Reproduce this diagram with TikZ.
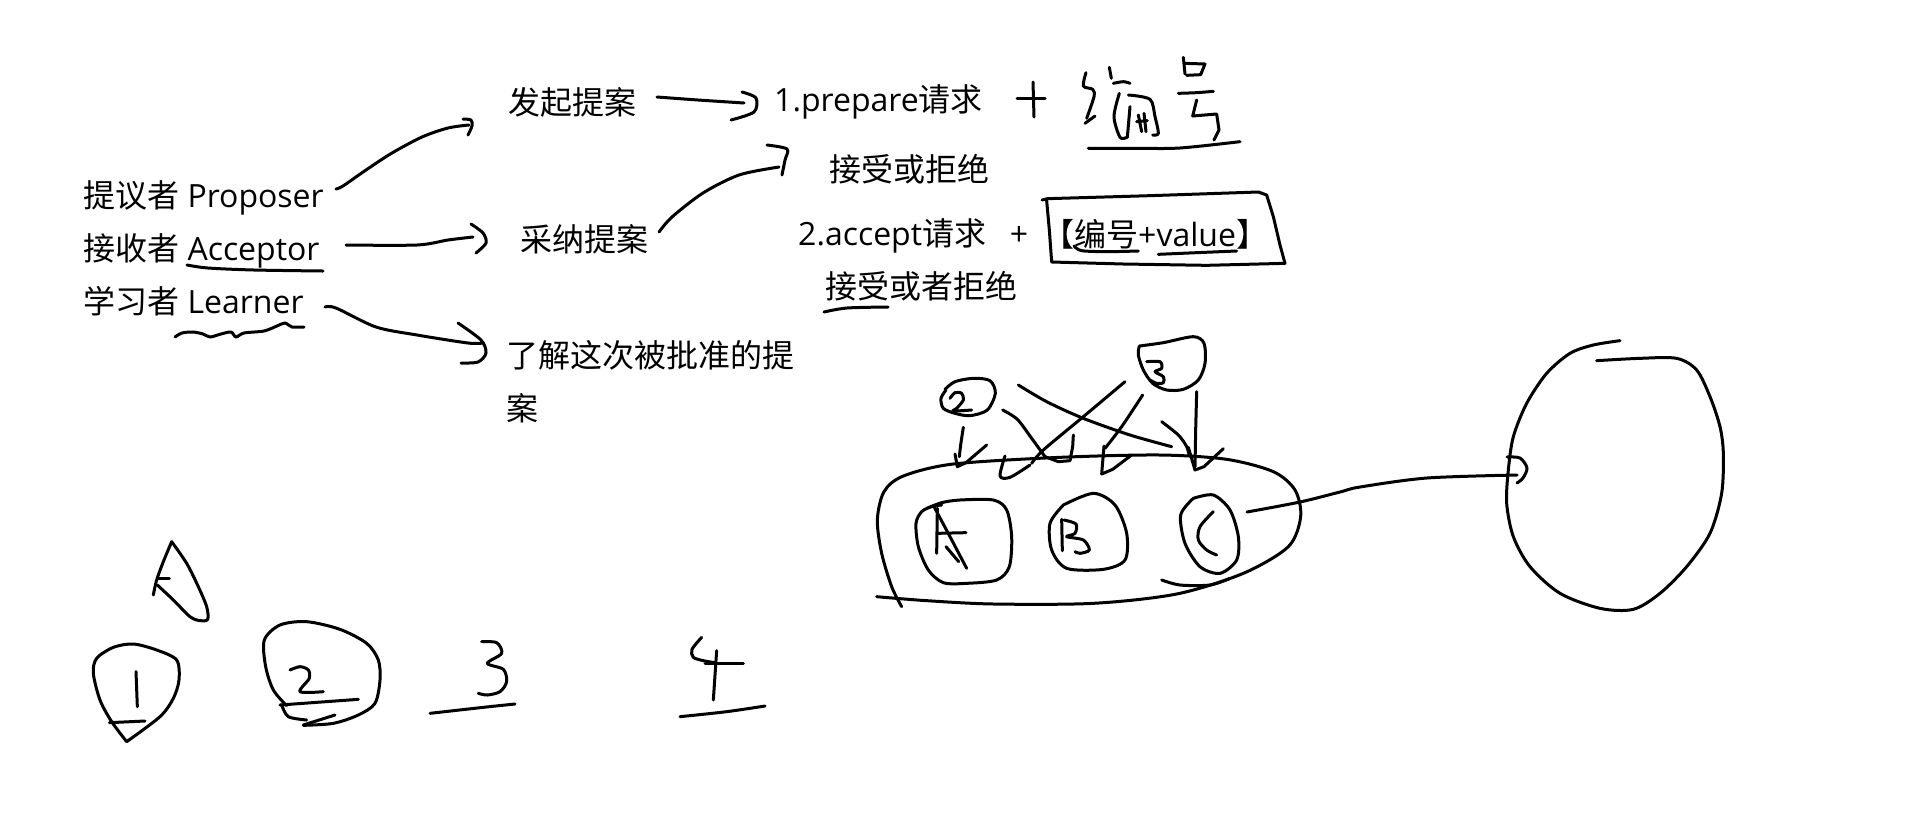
\documentclass[tikz,border=0pt]{standalone}
\usepackage{fontspec}
\setmainfont{Open Sans}
\newfontfamily\cjk{Noto Sans CJK SC}
\begin{document}
\begin{tikzpicture}[x=1pt,y=-1pt,
  hand/.style={line width=3pt, line cap=round, line join=round},
  lbl/.style={anchor=base west, inner sep=0pt, font=\fontsize{32}{53}\selectfont},
  cjklbl/.style={lbl, font=\fontsize{32}{53}\selectfont\cjk},
]
\useasboundingbox[fill=white] (0,0) rectangle (1914,823);

% ---- typed labels ----
\node[lbl] (prop) at (83,207) {{\cjk 提议者} Proposer};
\node[lbl] (acc)  at (83,260) {{\cjk 接收者} Acceptor};
\node[lbl] (lrn)  at (83,313) {{\cjk 学习者} Learner};
\node[cjklbl] (start)  at (508,114) {发起提案};
\node[cjklbl] (adopt)  at (520,251) {采纳提案};
\node[cjklbl, align=left] (learn) at (506,420) {了解这次被批准的提\\案};
\node[lbl] (prep)  at (774,111) {1.prepare{\cjk 请求}};
\node[cjklbl] (rej1) at (829,181) {接受或拒绝};
\node[lbl] (accr)  at (798,245) {2.accept{\cjk 请求}};
\node[inner sep=0pt, font=\fontsize{32}{40}\selectfont] (plus) at (1019,236) {+};
\node[lbl] (numval) at (1042,246) {{\cjk 【编号}+value{\cjk 】}};
\node[cjklbl] (rej2) at (825,298) {接受或者拒绝};

% ---- hand-drawn arrows between the labels ----
\draw[hand] plot[smooth] coordinates {(336,189) (343,186) (366,170) (392,153) (422,137) (448,128) (469,125)};
\draw[hand] plot[smooth] coordinates {(463,119) (471,120) (472,126) (468,135)};

\draw[hand] plot[smooth] coordinates {(657,97) (698,100) (744,103)};
\draw[hand] plot[smooth] coordinates {(742,92) (756,98) (754,112) (731,120)};

\draw[hand] plot[smooth] coordinates {(659,232) (672,217) (703,193) (739,175) (779,167)};
\draw[hand] plot[smooth] coordinates {(767,145) (787,149) (785,160) (782,175)};

\draw[hand] plot[smooth] coordinates {(346,245) (417,245) (448,240) (473,237)};
\draw[hand] plot[smooth] coordinates {(471,224) (483,233) (486,243) (476,253)};

\draw[hand] plot[smooth] coordinates {(325,307) (336,308) (376,327) (417,335) (468,343) (483,343)};
\draw[hand] plot[smooth] coordinates {(458,323) (481,340) (486,353) (478,362) (461,363)};

% underlines
\draw[hand] plot[smooth] coordinates {(187,265) (208,268) (254,270) (323,271)};
\draw[hand] plot[smooth, tension=0.5] coordinates {(175,337) (182,333) (193,332) (203,334) (210,337) (221,334) (231,332) (236,337) (244,333) (264,331) (277,326) (285,323) (292,327) (304,327)};
\draw[hand] plot[smooth] coordinates {(824,312) (847,308) (888,307)};

% hand-written plus and number
\draw[hand] (1017,98) -- (1045,98);
\draw[hand] (1033,82) -- (1034,117);

\begin{scope}[shift={(1070,50)}, scale=1/3]
  \draw[hand] plot[smooth] coordinates {(48,68) (40,108) (68,118) (72,140) (50,205)};
  \draw[hand] (45,220) -- (75,198);
  \draw[hand] (118,52) -- (124,85);
  \draw[hand] plot[smooth] coordinates {(130,100) (160,95) (180,100)};
  \draw[hand] plot[smooth] coordinates {(148,130) (132,200) (150,262) (170,262)};
  \draw[hand] plot[smooth] coordinates {(175,135) (240,148) (255,200) (265,250) (248,255)};
  \draw[hand] (180,170) -- (172,262);
  \draw[hand] (205,195) -- (215,245);
  \draw[hand] (222,190) -- (228,245);
  \draw[hand] (200,215) -- (232,212);
  \draw[hand] (340,22) -- (345,72);
  \draw[hand] (345,40) -- (405,42) -- (392,74) -- (350,76);
  \draw[hand] plot[smooth] coordinates {(325,130) (380,128) (430,124)};
  \draw[hand] (380,150) -- (368,198) -- (440,192) -- (447,240) -- (432,270);
  \draw[hand] plot[smooth] coordinates {(55,295) (200,295) (330,294) (510,275)};
\end{scope}

% box round the key/value pair
\begin{scope}[shift={(1040,180)}, scale=1/3]
  \draw[hand] (6,60) -- (22,56) -- (330,47) -- (655,36) -- (680,45) -- (700,110) -- (720,195) -- (735,250)
              -- (500,256) -- (250,252) -- (35,246) -- (28,150) -- (20,62);
  \draw[hand] plot[smooth] coordinates {(102,198) (125,212) (200,215) (295,213)};
  \draw[hand] plot[smooth] coordinates {(355,223) (470,218) (590,213)};
\end{scope}

% ---- cluster A B C ----
\begin{scope}[shift={(860,320)}, scale=1/3]
  \draw[hand] plot[smooth] coordinates {(125,860) (95,800) (65,700) (52,600) (72,515) (130,468) (280,432) (600,412) (900,405) (1100,418) (1240,455) (1305,510) (1322,590) (1285,680) (1150,760) (950,822) (700,850) (400,852) (200,842) (50,830)};
  % A
  \draw[hand] plot[smooth] coordinates {(200,565) (245,548) (300,540) (400,540) (440,570) (455,650) (448,740) (410,780) (320,790) (250,788) (205,750) (175,680) (168,610) (185,575) (215,560) (245,555)};
  \draw[hand] (232,565) -- (230,700);
  \draw[hand] (222,560) -- (270,650) -- (320,745);
  \draw[hand] (232,640) -- (318,638);
  \draw[hand] (258,680) -- (296,725);
  % B
  \draw[hand] plot[smooth] coordinates {(610,555) (700,520) (765,555) (800,640) (795,720) (730,748) (620,745) (575,690) (570,610) (610,555)};
  \draw[hand] (605,598) -- (607,692);
  \draw[hand] plot[smooth] coordinates {(612,600) (648,612) (645,640) (620,650) (670,660) (688,690) (660,700) (645,695)};
  % C
  \draw[hand] plot[smooth] coordinates {(1000,535) (1060,525) (1110,570) (1135,650) (1130,720) (1080,760) (1020,740) (975,670) (962,585) (1000,535)};
  \draw[hand] plot[smooth] coordinates {(1060,575) (1020,620) (1015,660) (1040,690) (1070,705)};
  \draw[hand] plot[smooth] coordinates {(905,780) (960,795) (1050,795) (1110,775)};
\end{scope}

% line from C to the large circle
\draw[hand] plot[smooth] coordinates {(1247,512) (1300,502) (1340,492) (1360,487) (1427,478) (1517,475)};
\draw[hand] plot[smooth] coordinates {(1507,457) (1520,458) (1527,468) (1523,478) (1517,483)};

\begin{scope}[shift={(1360,320)}, scale=1/3]
  \draw[hand] plot[smooth] coordinates {(780,62) (700,75) (630,100) (560,160) (500,250) (460,350) (445,450) (440,550) (460,650) (510,740) (600,820) (720,865) (820,868) (900,820) (980,740) (1050,640) (1085,520) (1090,400) (1080,320) (1050,230) (1010,150) (950,115) (840,115) (710,122)};
\end{scope}

% marks 2 and 3 with their arrows
\begin{scope}[shift={(930,330)}, scale=1/3]
  \draw[hand] plot[smooth] coordinates {(45,178) (75,155) (130,145) (180,152) (196,190) (172,240) (120,257) (75,250) (40,235) (33,205) (48,180)};
  \draw[hand] plot[smooth] coordinates {(60,205) (75,188) (95,190) (100,210) (80,235) (70,243) (125,240)};
  \draw[hand] plot[smooth] coordinates {(100,292) (92,345) (88,380)};
  \draw[hand] (75,372) -- (82,410) -- (108,398) -- (170,345);
  \draw[hand] plot[smooth] coordinates {(218,240) (262,268) (305,325) (345,380)};
  \draw[hand] (345,380) -- (385,395) -- (420,392) -- (428,350) -- (430,315);
  \draw[hand] plot[smooth] coordinates {(265,165) (350,215) (460,265) (600,315) (725,350)};
  \draw[hand] plot[smooth] coordinates {(695,275) (745,315) (770,350) (778,378)};
  \draw[hand] plot[smooth] coordinates {(628,48) (700,38) (790,20) (822,40) (825,100) (805,150) (760,178) (710,180) (668,160) (640,120) (625,75) (628,48)};
  \draw[hand] plot[smooth] coordinates {(650,95) (690,95) (695,115) (675,125) (700,140) (700,158) (680,160) (660,150)};
  \draw[hand] plot[smooth] coordinates {(585,155) (460,260) (340,360) (305,400)};
  \draw[hand] plot[smooth] coordinates {(225,378) (210,438) (240,442) (300,405)};
  \draw[hand] plot[smooth] coordinates {(638,195) (575,290) (525,355)};
  \draw[hand] (522,348) -- (515,432) -- (548,418) -- (605,375);
  \draw[hand] (800,185) -- (797,300) -- (795,410);
  \draw[hand] (775,352) -- (795,420) -- (822,410) -- (880,356);
\end{scope}

% ---- numbered marks at the bottom left ----
\begin{scope}[shift={(80,540)}, scale=1/3]
  \draw[hand] plot[smooth] coordinates {(275,5) (250,65) (230,120) (220,165)};
  \draw[hand] (236,115) -- (268,115);
  \draw[hand] plot[smooth] coordinates {(232,135) (280,180) (330,230) (360,242) (383,238) (380,200) (355,140) (320,70) (275,5)};
  \draw[hand] plot[smooth] coordinates {(140,605) (95,545) (60,480) (40,400) (50,355) (100,322) (160,312) (230,330) (290,360) (297,420) (280,475) (240,530) (140,605)};
  \draw[hand] (168,395) -- (172,500);
  \draw[hand] (88,548) -- (195,543);
  \draw[hand] plot[smooth] coordinates {(620,497) (580,450) (557,380) (553,300) (600,255) (680,245) (780,268) (860,310) (895,360) (900,420) (885,490) (835,525) (760,550) (670,556)};
  \draw[hand] plot[smooth] coordinates {(605,495) (625,530) (680,540)};
  \draw[hand] plot[smooth] coordinates {(630,390) (660,380) (685,390) (688,415) (660,455) (730,455)};
  \draw[hand] (600,495) -- (835,478);
  \draw[hand] (670,555) -- (765,525);
\end{scope}

\begin{scope}[shift={(400,620)}, scale=1/3]
  \draw[hand] plot[smooth] coordinates {(245,65) (290,68) (305,100) (262,130) (310,148) (320,185) (300,215) (262,225) (235,220)};
  \draw[hand] plot[smooth] coordinates {(90,280) (250,262) (345,252)};
  \draw[hand] plot[smooth] coordinates {(905,52) (876,88) (880,112) (910,122) (945,128)};
  \draw[hand] (915,130) -- (1030,130);
  \draw[hand] (950,92) -- (940,240);
  \draw[hand] plot[smooth] coordinates {(840,290) (980,275) (1095,258)};
\end{scope}
\end{tikzpicture}
\end{document}
